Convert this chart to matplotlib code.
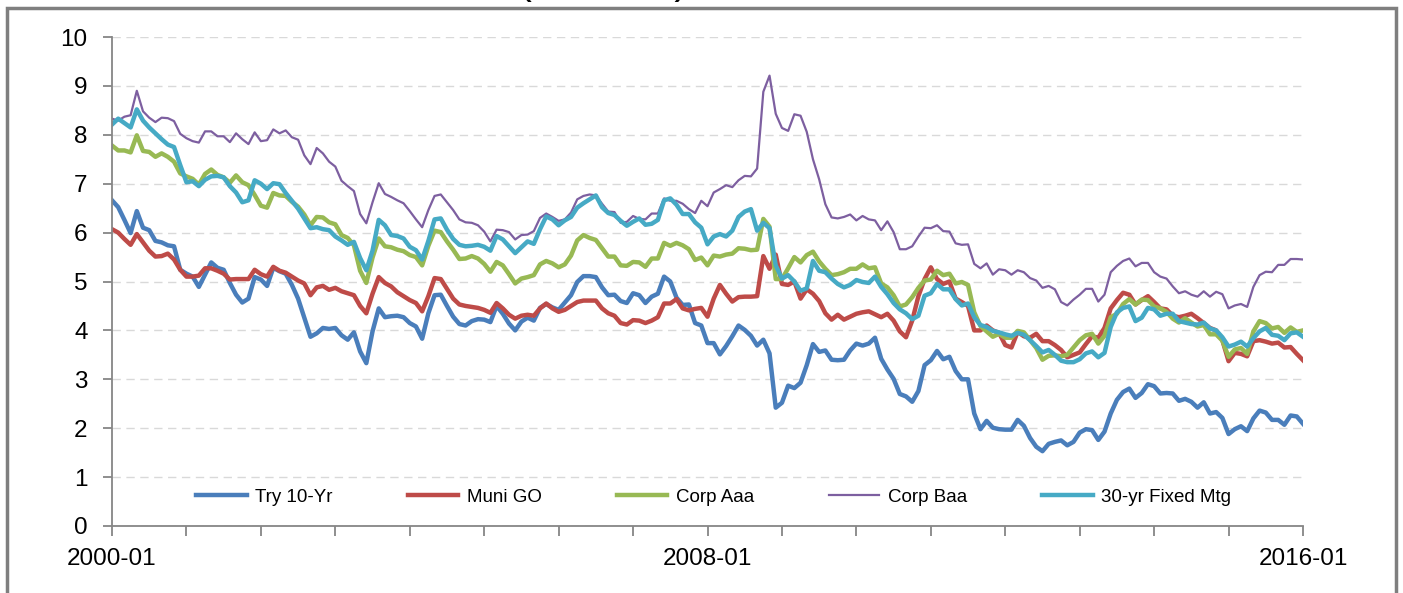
import numpy as np
import pandas as pd
import matplotlib
matplotlib.use("Agg")
import matplotlib.pyplot as plt
from matplotlib.patches import Rectangle

# monthly yields, 2000-01 .. 2016-01 (percent)
months = pd.date_range("2000-01-01", "2016-01-01", freq="MS").strftime("%Y-%m").tolist()

try_10yr = [
    6.66, 6.52, 6.26, 5.99, 6.44, 6.10, 6.05, 5.83, 5.80, 5.74, 5.72, 5.24,
    5.16, 5.10, 4.89, 5.14, 5.39, 5.28, 5.24, 4.97, 4.73, 4.57, 4.65, 5.09,
    5.04, 4.91, 5.28, 5.21, 5.16, 4.93, 4.65, 4.26, 3.87, 3.94, 4.05, 4.03,
    4.05, 3.90, 3.81, 3.96, 3.57, 3.33, 3.98, 4.45, 4.27, 4.29, 4.30, 4.27,
    4.15, 4.08, 3.83, 4.35, 4.72, 4.73, 4.50, 4.28, 4.13, 4.10, 4.19, 4.23,
    4.22, 4.17, 4.50, 4.34, 4.14, 4.00, 4.18, 4.26, 4.20, 4.46, 4.54, 4.47,
    4.42, 4.57, 4.72, 4.99, 5.11, 5.11, 5.09, 4.88, 4.72, 4.73, 4.60, 4.56,
    4.76, 4.72, 4.56, 4.69, 4.75, 5.10, 5.00, 4.67, 4.52, 4.53, 4.15, 4.10,
    3.74, 3.74, 3.51, 3.68, 3.88, 4.10, 4.01, 3.89, 3.69, 3.81, 3.53, 2.42,
    2.52, 2.87, 2.82, 2.93, 3.29, 3.72, 3.56, 3.59, 3.40, 3.39, 3.40, 3.59,
    3.73, 3.69, 3.73, 3.85, 3.42, 3.20, 3.01, 2.70, 2.65, 2.54, 2.76, 3.29,
    3.39, 3.58, 3.41, 3.46, 3.17, 3.00, 3.00, 2.30, 1.98, 2.15, 2.01, 1.98,
    1.97, 1.97, 2.17, 2.05, 1.80, 1.62, 1.53, 1.68, 1.72, 1.75, 1.65, 1.72,
    1.91, 1.98, 1.96, 1.76, 1.93, 2.30, 2.58, 2.74, 2.81, 2.62, 2.72, 2.90,
    2.86, 2.71, 2.72, 2.71, 2.56, 2.60, 2.54, 2.42, 2.53, 2.30, 2.33, 2.21,
    1.88, 1.98, 2.04, 1.94, 2.20, 2.36, 2.32, 2.17, 2.17, 2.07, 2.26, 2.24,
    2.09,
]

muni_go = [
    6.07, 6.00, 5.87, 5.75, 5.97, 5.80, 5.63, 5.51, 5.52, 5.57, 5.45, 5.24,
    5.10, 5.10, 5.12, 5.27, 5.27, 5.22, 5.16, 5.04, 5.05, 5.05, 5.05, 5.24,
    5.15, 5.10, 5.30, 5.22, 5.18, 5.10, 5.02, 4.96, 4.72, 4.88, 4.91, 4.83,
    4.87, 4.80, 4.76, 4.72, 4.50, 4.35, 4.75, 5.09, 4.97, 4.90, 4.78, 4.70,
    4.62, 4.56, 4.39, 4.70, 5.07, 5.05, 4.85, 4.65, 4.53, 4.50, 4.48, 4.46,
    4.42, 4.36, 4.56, 4.45, 4.32, 4.24, 4.30, 4.32, 4.30, 4.45, 4.55, 4.45,
    4.38, 4.42, 4.50, 4.58, 4.61, 4.61, 4.61, 4.45, 4.35, 4.30, 4.15, 4.12,
    4.21, 4.20, 4.15, 4.20, 4.27, 4.55, 4.55, 4.64, 4.45, 4.41, 4.44, 4.46,
    4.28, 4.65, 4.93, 4.75, 4.59, 4.68, 4.69, 4.69, 4.70, 5.52, 5.26, 5.55,
    4.95, 4.93, 5.00, 4.65, 4.84, 4.75, 4.60, 4.35, 4.22, 4.32, 4.22, 4.28,
    4.34, 4.37, 4.39, 4.33, 4.27, 4.34, 4.20, 3.98, 3.86, 4.20, 4.70, 5.05,
    5.29, 5.05, 4.95, 5.00, 4.65, 4.58, 4.50, 4.00, 4.00, 4.10, 4.00, 3.95,
    3.70, 3.65, 3.97, 3.88, 3.85, 3.93, 3.78, 3.78, 3.70, 3.60, 3.45, 3.50,
    3.55, 3.72, 3.88, 3.85, 4.05, 4.45, 4.62, 4.77, 4.73, 4.53, 4.62, 4.70,
    4.58, 4.45, 4.43, 4.30, 4.27, 4.30, 4.34, 4.25, 4.15, 4.05, 4.00, 3.80,
    3.37, 3.54, 3.52, 3.47, 3.78, 3.80, 3.77, 3.73, 3.75, 3.65, 3.66, 3.52,
    3.39,
]

corp_aaa = [
    7.78, 7.68, 7.68, 7.64, 7.99, 7.67, 7.65, 7.55, 7.62, 7.55, 7.45, 7.21,
    7.15, 7.10, 6.98, 7.20, 7.29, 7.18, 7.13, 7.02, 7.17, 7.03, 6.97, 6.77,
    6.55, 6.51, 6.81, 6.76, 6.75, 6.63, 6.53, 6.37, 6.15, 6.32, 6.31, 6.21,
    6.17, 5.95, 5.89, 5.74, 5.22, 4.97, 5.49, 5.88, 5.72, 5.70, 5.65, 5.62,
    5.54, 5.50, 5.33, 5.73, 6.04, 6.01, 5.82, 5.65, 5.46, 5.47, 5.52, 5.47,
    5.36, 5.20, 5.40, 5.33, 5.15, 4.96, 5.06, 5.09, 5.13, 5.35, 5.42, 5.37,
    5.29, 5.35, 5.53, 5.84, 5.95, 5.89, 5.85, 5.68, 5.51, 5.51, 5.33, 5.32,
    5.40, 5.39, 5.30, 5.47, 5.47, 5.79, 5.73, 5.79, 5.74, 5.66, 5.44, 5.49,
    5.33, 5.53, 5.51, 5.55, 5.57, 5.68, 5.67, 5.64, 5.65, 6.28, 6.12, 5.05,
    5.05, 5.27, 5.50, 5.39, 5.54, 5.61, 5.41, 5.26, 5.13, 5.15, 5.19, 5.26,
    5.26, 5.35, 5.27, 5.29, 4.96, 4.88, 4.72, 4.49, 4.53, 4.68, 4.87, 5.02,
    5.04, 5.22, 5.13, 5.16, 4.96, 4.99, 4.93, 4.37, 4.09, 3.98, 3.87, 3.93,
    3.85, 3.85, 3.99, 3.96, 3.80, 3.64, 3.40, 3.48, 3.49, 3.47, 3.50, 3.65,
    3.80, 3.90, 3.93, 3.73, 3.89, 4.27, 4.34, 4.54, 4.64, 4.53, 4.63, 4.62,
    4.49, 4.45, 4.38, 4.24, 4.16, 4.25, 4.16, 4.08, 4.11, 3.92, 3.92, 3.79,
    3.46, 3.61, 3.64, 3.52, 3.98, 4.19, 4.15, 4.04, 4.07, 3.95, 4.06, 3.97,
    4.00,
]

corp_baa = [
    8.33, 8.29, 8.37, 8.40, 8.90, 8.48, 8.35, 8.26, 8.35, 8.34, 8.28, 8.02,
    7.93, 7.87, 7.84, 8.07, 8.07, 7.97, 7.97, 7.85, 8.03, 7.91, 7.81, 8.05,
    7.87, 7.89, 8.11, 8.03, 8.09, 7.95, 7.90, 7.58, 7.40, 7.73, 7.62, 7.45,
    7.35, 7.06, 6.95, 6.85, 6.38, 6.19, 6.62, 7.01, 6.79, 6.73, 6.66, 6.60,
    6.44, 6.27, 6.11, 6.46, 6.75, 6.78, 6.62, 6.46, 6.27, 6.21, 6.20, 6.15,
    6.02, 5.82, 6.06, 6.05, 6.01, 5.86, 5.95, 5.96, 6.03, 6.30, 6.39, 6.32,
    6.24, 6.27, 6.41, 6.68, 6.75, 6.78, 6.76, 6.59, 6.43, 6.42, 6.20, 6.22,
    6.34, 6.28, 6.27, 6.39, 6.39, 6.70, 6.65, 6.65, 6.59, 6.48, 6.40, 6.65,
    6.54, 6.82, 6.89, 6.97, 6.93, 7.07, 7.16, 7.15, 7.31, 8.88, 9.21, 8.43,
    8.14, 8.08, 8.42, 8.39, 8.06, 7.50, 7.09, 6.58, 6.31, 6.29, 6.32, 6.37,
    6.25, 6.34, 6.27, 6.25, 6.05, 6.23, 6.01, 5.66, 5.66, 5.72, 5.92, 6.10,
    6.09, 6.15, 6.03, 6.02, 5.78, 5.75, 5.76, 5.36, 5.27, 5.37, 5.14, 5.25,
    5.23, 5.14, 5.23, 5.19, 5.07, 5.02, 4.87, 4.91, 4.84, 4.58, 4.51, 4.63,
    4.73, 4.85, 4.85, 4.59, 4.73, 5.19, 5.32, 5.42, 5.47, 5.31, 5.38, 5.38,
    5.19, 5.10, 5.06, 4.90, 4.76, 4.80, 4.73, 4.69, 4.80, 4.69, 4.79, 4.74,
    4.45, 4.51, 4.54, 4.48, 4.89, 5.13, 5.20, 5.19, 5.34, 5.34, 5.46, 5.46,
    5.45,
]

mtg_30yr = [
    8.21, 8.33, 8.24, 8.15, 8.52, 8.29, 8.15, 8.03, 7.91, 7.80, 7.75, 7.38,
    7.03, 7.05, 6.95, 7.08, 7.15, 7.16, 7.13, 6.95, 6.82, 6.62, 6.66, 7.07,
    7.00, 6.89, 7.01, 6.99, 6.81, 6.65, 6.49, 6.29, 6.09, 6.11, 6.07, 6.05,
    5.92, 5.84, 5.75, 5.81, 5.48, 5.23, 5.63, 6.26, 6.15, 5.95, 5.93, 5.88,
    5.71, 5.64, 5.45, 5.83, 6.27, 6.29, 6.06, 5.87, 5.75, 5.72, 5.73, 5.75,
    5.71, 5.63, 5.93, 5.86, 5.72, 5.58, 5.70, 5.82, 5.77, 6.07, 6.33, 6.27,
    6.15, 6.25, 6.32, 6.51, 6.60, 6.68, 6.76, 6.52, 6.40, 6.36, 6.24, 6.14,
    6.22, 6.29, 6.16, 6.18, 6.26, 6.66, 6.70, 6.57, 6.38, 6.38, 6.21, 6.10,
    5.76, 5.92, 5.97, 5.92, 6.04, 6.32, 6.43, 6.48, 6.04, 6.20, 6.09, 5.33,
    5.06, 5.13, 5.00, 4.81, 4.86, 5.42, 5.22, 5.19, 5.06, 4.95, 4.88, 4.93,
    5.03, 4.99, 4.97, 5.10, 4.89, 4.74, 4.56, 4.43, 4.35, 4.23, 4.30, 4.71,
    4.76, 4.95, 4.84, 4.84, 4.64, 4.51, 4.55, 4.27, 4.11, 4.07, 3.99, 3.96,
    3.92, 3.89, 3.95, 3.91, 3.80, 3.68, 3.55, 3.60, 3.50, 3.38, 3.35, 3.35,
    3.41, 3.53, 3.57, 3.45, 3.54, 4.07, 4.37, 4.46, 4.49, 4.19, 4.26, 4.46,
    4.43, 4.30, 4.34, 4.34, 4.19, 4.16, 4.13, 4.12, 4.16, 4.04, 4.00, 3.86,
    3.67, 3.71, 3.77, 3.67, 3.84, 3.98, 4.05, 3.91, 3.89, 3.80, 3.94, 3.96,
    3.87,
]

series_names = ["Try 10-Yr", "Muni GO", "Corp Aaa", "Corp Baa", "30-yr Fixed Mtg"]
series_values = [try_10yr, muni_go, corp_aaa, corp_baa, mtg_30yr]
series_colors = ["#4A7EBB", "#BE4B48", "#98B954", "#7D5FA0", "#46AAC5"]
series_widths = [3.2, 3.2, 3.2, 1.6, 3.2]

plt.rcParams["font.family"] = ["Liberation Sans", "DejaVu Sans"]

fig = plt.figure(figsize=(14.03, 5.93), dpi=100)
ax = fig.add_axes([112 / 1403, 67 / 593, 1191 / 1403, 489 / 593])

x = np.arange(len(months))
for name, vals, col, lw in zip(series_names, series_values, series_colors, series_widths):
    ax.plot(x, vals, color=col, lw=lw, label=name, solid_joinstyle="round")

ax.set_xlim(0, len(months) - 1)
ax.set_ylim(0, 10)
ax.set_yticks(range(0, 11))

tick_pos = list(range(0, len(months), 12))
ax.set_xticks(tick_pos)
ax.set_xticklabels([months[i] if i % 96 == 0 else "" for i in tick_pos])

axis_gray = "#868686"
for side in ["top", "right"]:
    ax.spines[side].set_visible(False)
for side in ["left", "bottom"]:
    ax.spines[side].set_color(axis_gray)
    ax.spines[side].set_linewidth(1.3)
ax.tick_params(axis="y", direction="out", length=6.5, width=1.3, color=axis_gray,
               pad=11, labelsize=17.5, labelcolor="black")
ax.tick_params(axis="x", direction="out", length=7, width=1.3, color=axis_gray,
               pad=9, labelsize=17.5, labelcolor="black")

ax.yaxis.grid(True, color="#D9D9D9", linestyle=(0, (6, 4)), lw=1)
ax.set_axisbelow(True)

ax.legend(loc="center left", bbox_to_anchor=((196 - 112) / 1191, (526 - 497) / 489),
          ncol=5, frameon=False, fontsize=13.5, handlelength=2.7, handletextpad=0.45,
          columnspacing=4.0, borderpad=0, borderaxespad=0)

# chart title sits above the crop; only the tails of the brackets show
fig.text(603 / 1403, 1 + 6.5 / 593, "(Percent)", ha="center", va="baseline",
         fontsize=30)

# chart-area border (bottom edge lies outside the crop)
fig.patches.append(Rectangle((7 / 1403, -0.1), (1396 - 7) / 1403, 0.1 + 585 / 593,
                             transform=fig.transFigure, fill=False,
                             edgecolor="#7F7F7F", lw=2.5))

fig.savefig("out.png", dpi=100)
